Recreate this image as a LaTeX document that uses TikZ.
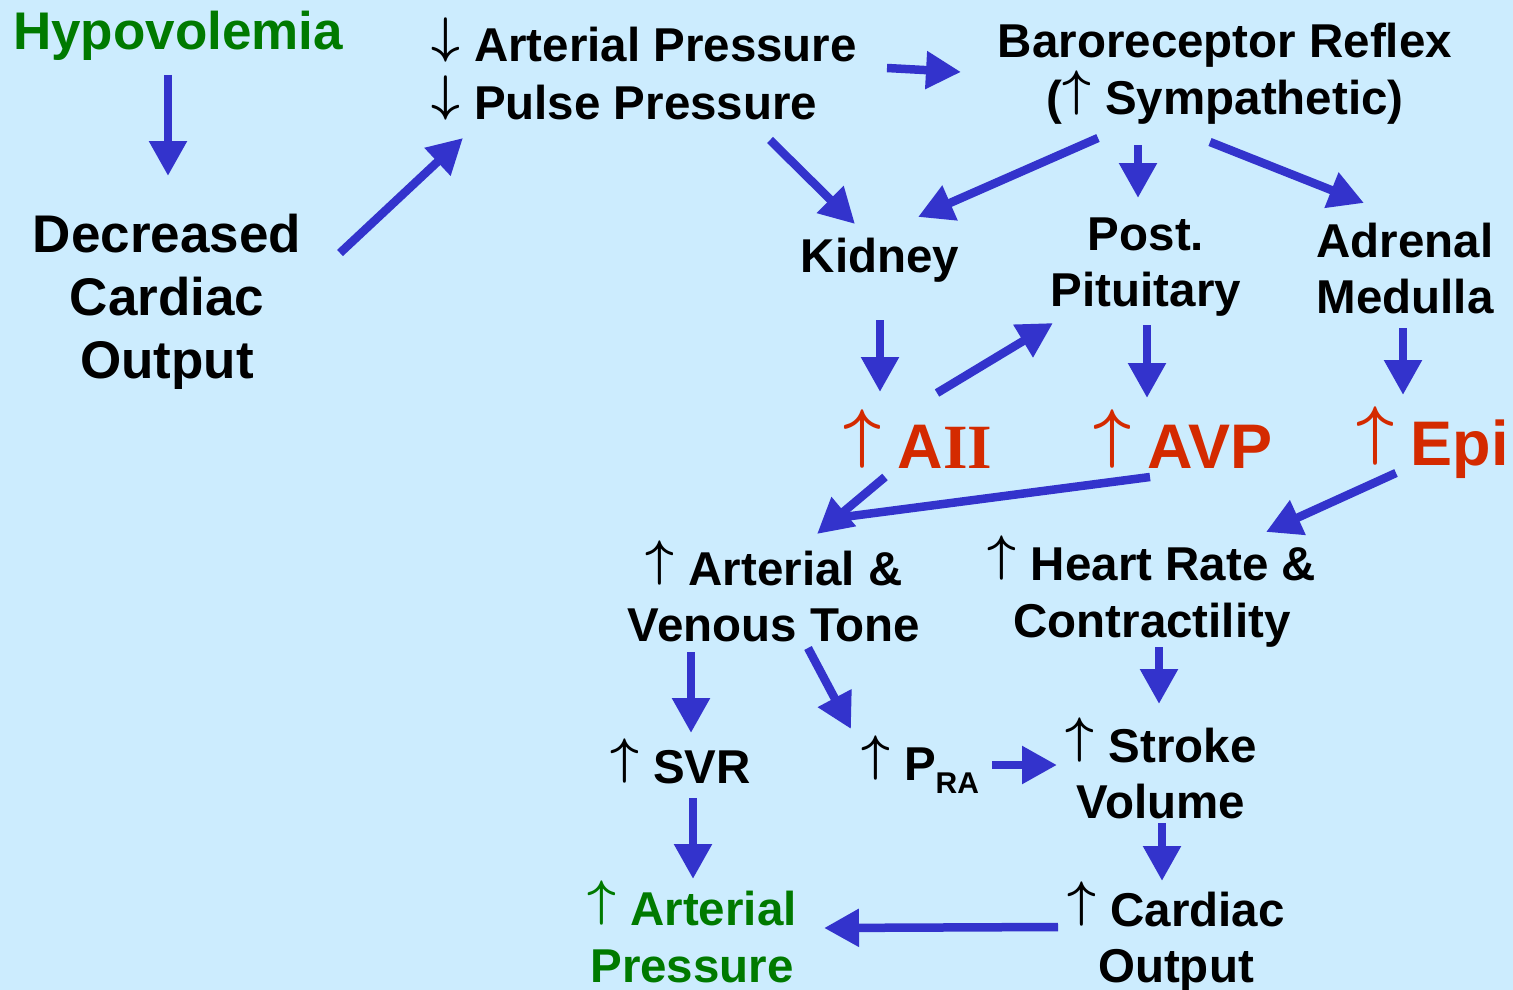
\documentclass[tikz,border=0pt]{standalone}
\usepackage{graphicx}
\usepackage{fontspec}
\setmainfont{Liberation Sans}
\newfontfamily\serifb{Liberation Serif}
\usetikzlibrary{arrows.meta}
\definecolor{bgblue}{RGB}{204,236,254}
\definecolor{arrblue}{RGB}{51,51,204}
\definecolor{hred}{RGB}{212,42,0}
\definecolor{hgreen}{RGB}{0,122,0}
\newcommand\mlines[2]{\begin{tabular}[t]{@{}#1@{}}#2\end{tabular}}
\newcommand\myup{\smash{\scalebox{5}{\raisebox{1.94pt}{\normalsize\boldmath$\uparrow$}}}\hspace{0.3em}}
\newcommand\mydown{\smash{\scalebox{5}{\raisebox{1.94pt}{\normalsize\boldmath$\downarrow$}}}\hspace{0.3em}}
\newcommand\redup{\smash{\scalebox{6.6}{\raisebox{1.94pt}{\normalsize\boldmath$\uparrow$}}}\hspace{0.27em}}
\newcommand\fbig{\fontsize{53}{63}\selectfont}
\newcommand\fmid{\fontsize{47.5}{56.5}\selectfont}
\newcommand\fred{\fontsize{63}{70}\selectfont}
\begin{document}
\begin{tikzpicture}[x=1pt,y=-1pt,
  txt/.style={inner sep=0pt,outer sep=0pt,font=\bfseries\fmid,text=black},
  bigtxt/.style={txt,font=\bfseries\fbig},
  redtxt/.style={txt,font=\bfseries\fred,text=hred},
  flow/.style={draw=arrblue,line width=8.5pt,-{Triangle[length=35pt,width=36pt]}},
  plainflow/.style={draw=arrblue,line width=8.5pt}]
\useasboundingbox (0,0) rectangle (1513,990);
\fill[bgblue] (0,0) rectangle (1513,990);

% texts
\node[bigtxt,text=hgreen,anchor=base] (hypo) at (178,50) {Hypovolemia};
\node[bigtxt,anchor=base] (dco) at (167,252) {\mlines{c}{Decreased\\Cardiac\\Output}};
\node[txt,anchor=base west] (ap) at (431,62) {\fontsize{47.5}{58}\selectfont\mlines{l}{\mydown Arterial Pressure\\\mydown Pulse Pressure}};
\node[txt,anchor=base] (baro) at (1225,58) {\fontsize{47.5}{57}\selectfont\mlines{c}{Baroreceptor Reflex\\(\myup Sympathetic)}};
\node[txt,anchor=base] (kid) at (880,272) {Kidney};
\node[txt,anchor=base] (pit) at (1146,250) {\mlines{c}{Post.\\Pituitary}};
\node[txt,anchor=base] (adr) at (1405,257) {\mlines{c}{Adrenal\\Medulla}};
\node[redtxt,anchor=base west] (aii) at (843,468) {\redup A{\serifb II}};
\node[redtxt,anchor=base west] (avp) at (1093,468) {\redup AVP};
\node[redtxt,anchor=base west] (epi) at (1356,465) {\redup Epi};
\node[txt,anchor=base] (tone) at (774,585) {\mlines{c}{\myup Arterial \&\\Venous Tone}};
\node[txt,anchor=base] (hr) at (1152,580) {\fontsize{47.5}{57}\selectfont\mlines{c}{\myup Heart Rate \&\\Contractility}};
\node[txt,anchor=base west] (svr) at (610,783) {\myup SVR};
\node[txt,anchor=base west] (pra) at (861,780) {\myup P\raisebox{-13pt}{\fontsize{30}{30}\selectfont RA}};
\node[txt,anchor=base] (sv) at (1161,762) {\mlines{c}{\myup Stroke\\Volume}};
\node[txt,text=hgreen,anchor=base] (artp) at (692,925) {\fontsize{47.5}{57}\selectfont\mlines{c}{\myup Arterial\\Pressure}};
\node[txt,anchor=base] (co) at (1176,926) {\mlines{c}{\myup Cardiac\\Output}};

% connector end points
\coordinate (hypoS) at (168,75);
\coordinate (dcoT) at (168,176);
\coordinate (dcoS) at (340,253);
\coordinate (apT) at (463,138);
\coordinate (apS) at (887,68);
\coordinate (baroT) at (961,72);
\coordinate (ppS) at (770,140);
\coordinate (kidT1) at (855,224);
\coordinate (baroS1) at (1098,138);
\coordinate (kidT2) at (918,217);
\coordinate (baroS2) at (1138,145);
\coordinate (pitT) at (1138,198);
\coordinate (baroS3) at (1210,142);
\coordinate (adrT) at (1364,203);
\coordinate (kidS) at (880,320);
\coordinate (aiiT) at (880,392);
\coordinate (aiiS1) at (937,393);
\coordinate (pitT2) at (1053,323);
\coordinate (pitS) at (1147,325);
\coordinate (avpT) at (1147,398);
\coordinate (adrS) at (1403,328);
\coordinate (epiT) at (1403,395);
\coordinate (aiiS2) at (885,477);
\coordinate (toneT) at (817,534);
\coordinate (avpS) at (1150,477);
\coordinate (avpE) at (836,518);
\coordinate (epiS) at (1396,473);
\coordinate (hrT) at (1266,532);
\coordinate (toneS1) at (691,652);
\coordinate (svrT) at (691,733);
\coordinate (toneS2) at (808,648);
\coordinate (praT) at (851,729);
\coordinate (svrS) at (693,798);
\coordinate (artpT) at (693,879);
\coordinate (praS) at (992,765);
\coordinate (svT) at (1057,765);
\coordinate (hrS) at (1159,647);
\coordinate (svT2) at (1159,704);
\coordinate (svS) at (1162,823);
\coordinate (coT) at (1162,881);
\coordinate (coS) at (1058,927);
\coordinate (artpT2) at (824,928);

% connectors
\draw[flow] (hypoS) -- (dcoT);
\draw[flow] (dcoS) -- (apT);
\draw[flow] (apS) -- (baroT);
\draw[flow] (ppS) -- (kidT1);
\draw[flow] (baroS1) -- (kidT2);
\draw[flow] (baroS2) -- (pitT);
\draw[flow] (baroS3) -- (adrT);
\draw[flow] (kidS) -- (aiiT);
\draw[flow] (aiiS1) -- (pitT2);
\draw[flow] (pitS) -- (avpT);
\draw[flow] (adrS) -- (epiT);
\draw[plainflow] (avpS) -- (avpE);
\draw[flow] (aiiS2) -- (toneT);
\draw[flow] (epiS) -- (hrT);
\draw[flow] (toneS1) -- (svrT);
\draw[flow] (toneS2) -- (praT);
\draw[flow] (svrS) -- (artpT);
\draw[flow] (praS) -- (svT);
\draw[flow] (hrS) -- (svT2);
\draw[flow] (svS) -- (coT);
\draw[flow] (coS) -- (artpT2);
\end{tikzpicture}
\end{document}
